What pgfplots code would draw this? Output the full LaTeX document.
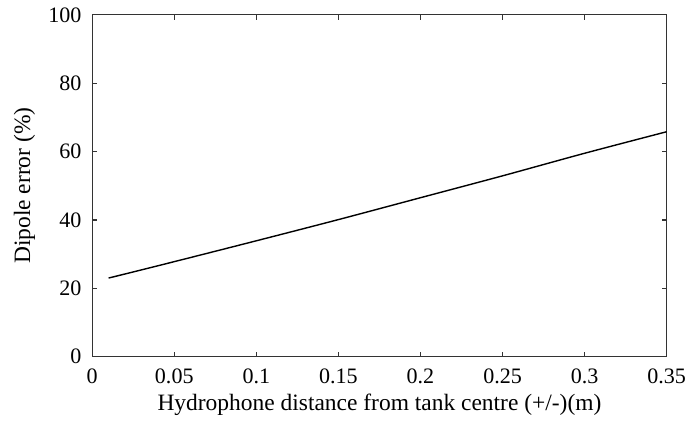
\documentclass[border=0pt]{standalone}
\usepackage{fontspec}
\setmainfont{Liberation Serif}
\usepackage{pgfplots}
\pgfplotsset{compat=1.18}
\begin{document}
\fontsize{11}{13}\selectfont
\begin{tikzpicture}
\begin{axis}[
  scale only axis,
  width=286.5pt, height=170.5pt,
  xmin=0, xmax=0.35, ymin=0, ymax=100,
  xtick={0,0.05,0.1,0.15,0.2,0.25,0.3,0.35},
  xticklabels={0,0.05,0.1,0.15,0.2,0.25,0.3,0.35},
  ytick={0,20,40,60,80,100},
  yticklabels={0,20,40,60,80,100},
  tick align=inside,
  major tick length=2.5pt,
  axis line style={line width=0.6pt, black!80},
  every tick/.style={line width=0.6pt, black!80},
  tick label style={font=\fontsize{11}{13}\selectfont},
  xticklabel style={yshift=-2pt, inner xsep=1.5pt},
  yticklabel style={xshift=-1.5pt},
  label style={font=\fontsize{11.7}{14}\selectfont},
  xlabel={Hydrophone distance from tank centre (+/-)(m)},
  ylabel={Dipole error (\%)},
  xlabel style={yshift=2.3pt},
  ylabel style={yshift=-1pt},
  /pgf/number format/assume math mode=true,
]
\addplot[black, line width=0.7pt, smooth] coordinates {
(0.01,23.0) (0.05,27.8) (0.1,33.9) (0.15,40.1) (0.2,46.5) (0.25,52.9) (0.3,59.5) (0.35,65.8)
};
\end{axis}
\path (current axis.outer west) ++(-3.3pt,0) coordinate (padl);
\end{tikzpicture}
\end{document}
